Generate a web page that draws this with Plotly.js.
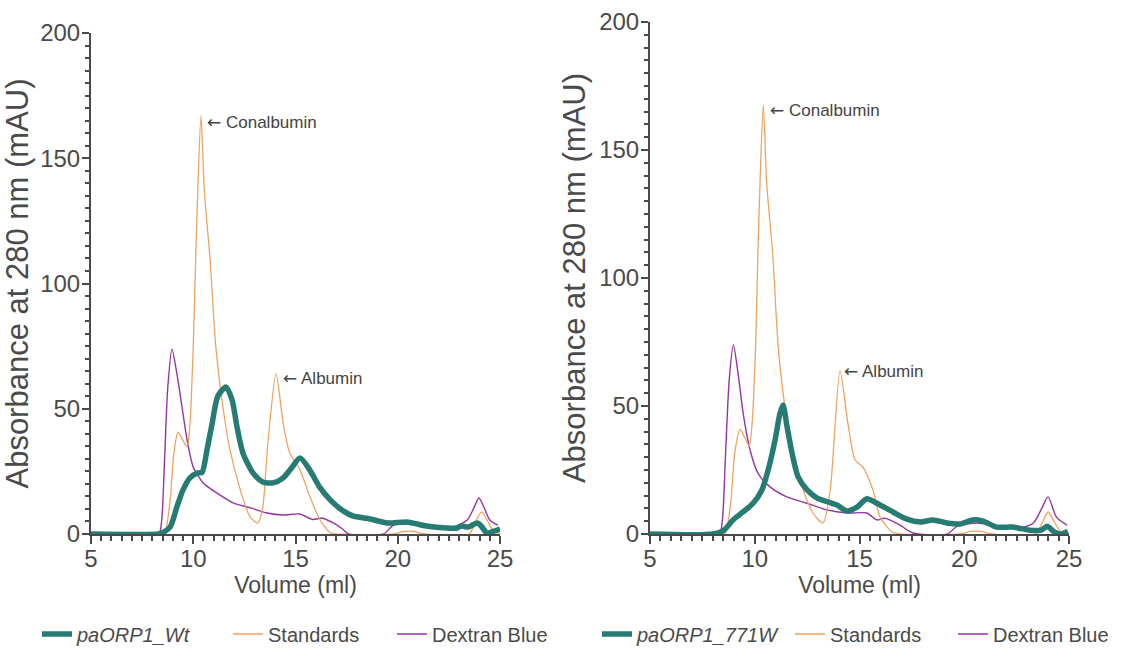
<!DOCTYPE html>
<html>
<head>
<meta charset="utf-8">
<script src="https://cdn.plot.ly/plotly-3.0.1.min.js"></script>
<style>html,body{margin:0;padding:0;background:#fff}#chart{width:1125px;height:656px}</style>
</head>
<body>
<div id="chart"></div>
<script>
// ---------- Left panel: paORP1_Wt ----------
const wtVol = [5, 8.3, 8.5, 8.87, 9.2, 9.5, 9.84, 10.23, 10.43, 10.67, 10.92, 11.2, 11.6, 11.9, 12.14, 12.43, 12.92, 13.4, 13.9, 14.4, 14.8, 15.22, 15.7, 16.2, 16.7, 17.2, 17.8, 18.65, 19.5, 20.45, 21.4, 22.4, 22.9, 23.1, 23.45, 23.9, 24.1, 24.36, 24.65, 25];
const wtAbs = [0, 0, 0.5, 2.8, 10.8, 17.6, 22.4, 24.4, 24.6, 33.5, 44, 55, 58.7, 53.5, 42.7, 32.3, 24.4, 20.8, 20.4, 22.4, 26.3, 30.3, 25.5, 18.5, 13.6, 10, 7.2, 6, 4.4, 4.8, 3.2, 2.4, 2.4, 3.2, 2.8, 4.4, 3, 0.4, 1, 2];

const stdVolL = [5, 8.3, 8.6, 8.85, 9.05, 9.25, 9.45, 9.7, 9.84, 10.0, 10.12, 10.22, 10.38, 10.54, 10.82, 11.1, 11.45, 11.8, 12.3, 12.78, 13.17, 13.4, 13.66, 14.05, 14.4, 14.73, 15.2, 15.7, 16.2, 16.7, 17.0, 19.8, 20.3, 20.8, 21.3, 23.5, 23.75, 24.1, 24.4, 24.65, 25];
const stdAbsL = [0, 0, 0.5, 12, 32, 40.7, 38, 34.8, 44, 75, 110, 137, 167, 137, 110, 75, 50.7, 33.5, 17.6, 6.8, 4.4, 10.8, 37.5, 64, 44, 32, 26, 15, 5.6, 0.5, 0, 0, 1, 1, 0, 0, 4, 8.8, 5, 1.5, 0];

const dexVolL = [5, 8.3, 8.45, 8.6, 8.75, 8.96, 9.2, 9.45, 9.7, 10.0, 10.5, 11.15, 11.95, 12.8, 13.6, 14.4, 15.2, 15.85, 16.3, 16.85, 17.3, 17.6, 19.3, 19.8, 20.6, 21.7, 22.7, 23.4, 23.7, 23.97, 24.2, 24.5, 24.9];
const dexAbsL = [0, 0, 5, 30, 58, 73.8, 64, 50.7, 37.5, 26.7, 20.3, 16.4, 12.4, 10.4, 8.4, 7.6, 8, 5.8, 6.4, 4.4, 2, 0, 0, 3.6, 4, 3.2, 2.8, 5.6, 10, 14.4, 11, 5.6, 3.5];

// ---------- Right panel: paORP1_771W ----------
const mutVol = [5, 8.0, 8.53, 8.96, 9.44, 9.92, 10.33, 10.64, 10.97, 11.2, 11.35, 11.54, 11.78, 12.07, 12.5, 12.98, 13.5, 13.93, 14.4, 14.88, 15.35, 15.83, 16.6, 17.26, 17.9, 18.5, 19.18, 19.8, 20.4, 20.9, 21.55, 22.3, 23.1, 23.67, 23.95, 24.3, 24.55, 24.95];
const mutAbs = [0, 0, 1.5, 5.5, 8.6, 12, 17, 25, 36.7, 47, 50.4, 42, 31.6, 22.3, 17.2, 14, 12.5, 11.3, 9, 10.5, 13.8, 12, 8.6, 5.8, 4.7, 5.5, 4.3, 3.9, 5.5, 5, 2.7, 2.7, 1.5, 1.5, 3, 0.8, 0, 1];

const stdVolR = [5, 8.35, 8.6, 8.85, 9.05, 9.3, 9.5, 9.74, 9.88, 10.04, 10.15, 10.25, 10.41, 10.57, 10.85, 11.12, 11.4, 11.68, 12.16, 12.78, 13.26, 13.6, 14.07, 14.45, 14.79, 15.17, 15.65, 15.98, 16.55, 16.9, 19.8, 20.3, 20.8, 21.3, 23.4, 23.7, 24.0, 24.35, 24.7, 25];
const stdAbsR = [0, 0, 0.5, 12, 32, 40.9, 38, 34.4, 44, 73, 110, 137, 167.6, 137, 110, 73, 52, 36.7, 21, 8.2, 4.3, 17, 63.8, 43, 29, 26, 17, 6.6, 0.8, 0, 0, 1, 1, 0, 0, 4, 8.6, 4, 0, 0];

const dexVolR = [5, 8.3, 8.45, 8.6, 8.78, 8.98, 9.2, 9.45, 9.77, 10.15, 10.73, 11.53, 12.49, 13.44, 14.4, 15.35, 15.83, 16.2, 16.93, 17.55, 19.2, 19.65, 20.6, 21.7, 22.8, 23.3, 23.7, 24.0, 24.4, 24.9];
const dexAbsR = [0, 0, 5, 30, 60, 73.8, 63, 47, 33, 23.8, 18.4, 14.5, 12, 9.4, 8.2, 8.2, 5.5, 6.2, 3.5, 0.4, 0, 3, 4.3, 3, 2.7, 4.3, 10, 14.5, 6.6, 3.5];

const xTicks = [5, 10, 15, 20, 25];
const yTicks = [0, 50, 100, 150, 200];
const seriesNames = ['<i>paORP1_Wt</i>', 'Standards', 'Dextran Blue', '<i>paORP1_771W</i>'];
const xTitle = 'Volume (ml)';
const yTitle = 'Absorbance at 280 nm (mAU)';

const TEAL = 'rgb(38,124,114)';
const ORANGE = 'rgb(242,162,96)';
const PURPLE = 'rgb(150,52,165)';
const GREY = '#4a4a4a';
const FONT = '"Liberation Sans", Arial, sans-serif';

function tr(x, y, name, color, width, xa, ya, legend) {
  return {x: x, y: y, name: name, type: 'scatter', mode: 'lines',
    line: {color: color, width: width, shape: 'spline', smoothing: 0.7},
    xaxis: xa, yaxis: ya, legend: legend, hoverinfo: 'x+y+name'};
}

const data = [
  tr(dexVolL, dexAbsL, seriesNames[2], PURPLE, 1.4, 'x', 'y', 'legend3'),
  tr(stdVolL, stdAbsL, seriesNames[1], ORANGE, 1.3, 'x', 'y', 'legend2'),
  tr(wtVol, wtAbs, seriesNames[0], TEAL, 5.5, 'x', 'y', 'legend'),
  tr(dexVolR, dexAbsR, seriesNames[2], PURPLE, 1.4, 'x2', 'y2', 'legend6'),
  tr(stdVolR, stdAbsR, seriesNames[1], ORANGE, 1.3, 'x2', 'y2', 'legend5'),
  tr(mutVol, mutAbs, seriesNames[3], TEAL, 5.5, 'x2', 'y2', 'legend4')
];

function xaxis(domain, anchor) {
  return {domain: domain, anchor: anchor, range: [xTicks[0], xTicks[xTicks.length - 1]],
    tickmode: 'linear', tick0: xTicks[0], dtick: xTicks[1] - xTicks[0],
    showgrid: false, zeroline: false, showline: true, linecolor: GREY, linewidth: 2,
    ticks: 'outside', ticklen: 8, tickwidth: 2, tickcolor: GREY, ticklabelstandoff: -6,
    minor: {dtick: 0.5, ticks: 'outside', ticklen: 5, tickwidth: 1.5, tickcolor: GREY},
    tickfont: {family: FONT, size: 24, color: GREY},
    title: {text: xTitle, font: {family: FONT, size: 23, color: GREY}, standoff: 0}};
}
function yaxis(domain, anchor) {
  return {domain: domain, anchor: anchor, range: [yTicks[0], yTicks[yTicks.length - 1]],
    tickmode: 'linear', tick0: yTicks[0], dtick: yTicks[1] - yTicks[0],
    showgrid: false, zeroline: false, showline: true, linecolor: GREY, linewidth: 2,
    ticks: 'outside', ticklen: 7, tickwidth: 2, tickcolor: GREY, ticklabelstandoff: -3,
    minor: {dtick: 5, ticks: 'outside', ticklen: 4, tickwidth: 1.5, tickcolor: GREY},
    tickfont: {family: FONT, size: 24, color: GREY},
    title: {text: yTitle, font: {family: FONT, size: 31, color: GREY}, standoff: 4}};
}
function leg(textStartPx) {
  return {x: (textStartPx - 40) / 1125, xanchor: 'left', y: (656 - 634) / 656, yanchor: 'middle',
    orientation: 'h', bgcolor: 'rgba(0,0,0,0)', borderwidth: 0,
    font: {family: FONT, size: 20, color: GREY}};
}
function ann(x, y, text, xref, yref) {
  return {x: x, y: y, xref: xref, yref: yref,
    text: '<span style="font-family:\'DejaVu Sans\'">\u2190</span> ' + text, showarrow: false,
    xanchor: 'left', yanchor: 'middle', font: {family: FONT, size: 17, color: '#444'}};
}

const layout = {
  width: 1125, height: 656,
  margin: {l: 0, r: 0, t: 0, b: 0},
  paper_bgcolor: '#fff', plot_bgcolor: '#fff',
  showlegend: true,
  xaxis: xaxis([91 / 1125, 500 / 1125], 'y'),
  yaxis: yaxis([(656 - 534) / 656, (656 - 33) / 656], 'x'),
  xaxis2: xaxis([650 / 1125, 1069 / 1125], 'y2'),
  yaxis2: yaxis([(656 - 534) / 656, (656 - 22) / 656], 'x2'),
  legend: leg(77), legend2: leg(268), legend3: leg(432),
  legend4: leg(637), legend5: leg(830), legend6: leg(993),
  annotations: [
    ann(10.55, 164.5, 'Conalbumin', 'x', 'y'),
    ann(14.27, 62.3, 'Albumin', 'x', 'y'),
    ann(10.62, 165.6, 'Conalbumin', 'x2', 'y2'),
    ann(14.17, 63.7, 'Albumin', 'x2', 'y2')
  ]
};

Plotly.newPlot('chart', data, layout, {displayModeBar: false});
</script>
</body>
</html>
